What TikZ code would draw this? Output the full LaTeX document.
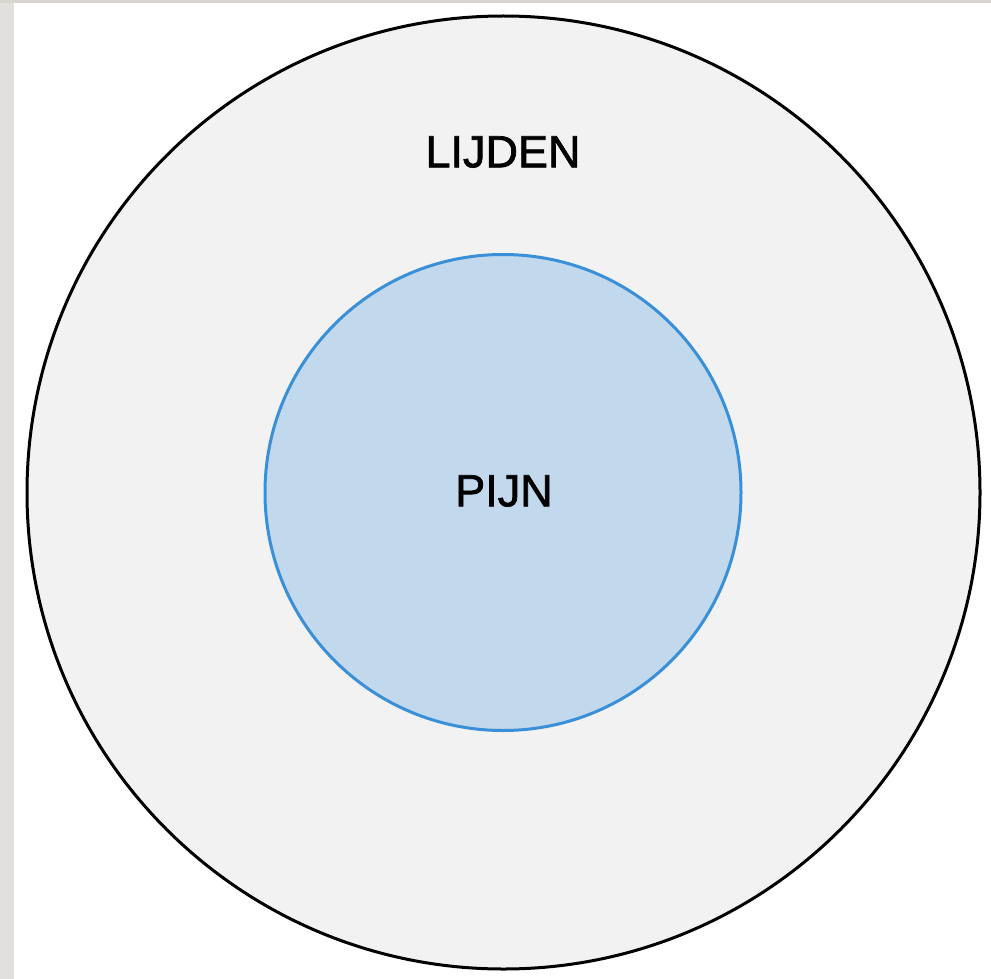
\documentclass[tikz,border=0pt]{standalone}
\usepackage{fontspec}
\setmainfont{Liberation Sans}
\newfontfamily\labelfont[FakeBold=1.6]{Liberation Sans}
\definecolor{sidegrey}{HTML}{E2E0DC}
\definecolor{topgrey}{HTML}{D8D4CE}
\definecolor{outerfill}{HTML}{F2F2F2}
\definecolor{innerfill}{HTML}{C2D8EC}
\definecolor{innerline}{HTML}{3A90D8}
\tikzset{
  ring/.style={circle, inner sep=0pt, outer sep=0pt, line width=3pt},
  label text/.style={font=\labelfont\fontsize{45}{45}\selectfont, text=black, inner sep=0pt}
}
\begin{document}
\begin{tikzpicture}[x=1pt, y=-1pt]
  % page and frame strips
  \fill[white] (0,0) rectangle (991,979);
  \useasboundingbox (0,0) rectangle (991,979);
  \fill[sidegrey] (0,0) rectangle (14,979);
  \fill[topgrey] (0,0) rectangle (991,3);
  % outer circle: suffering
  \node[ring, draw=black, fill=outerfill, minimum size=953pt] (lijdenring) at (503.5,492.5) {};
  % inner circle: pain
  \node[ring, draw=innerline, fill=innerfill, minimum size=476pt] (pijnring) at (503,492.5) {};
  % labels
  \node[label text] (lijden) at (503,152) {LIJDEN};
  \node[label text] (pijn) at (504,491) {PIJN};
\end{tikzpicture}
\end{document}
